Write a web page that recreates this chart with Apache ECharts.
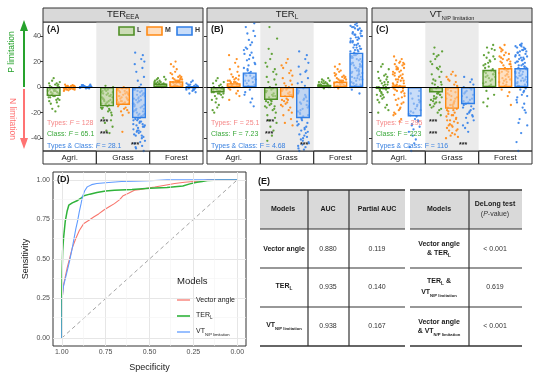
<!DOCTYPE html>
<html><head><meta charset="utf-8">
<script src="https://cdn.jsdelivr.net/npm/echarts@6/dist/echarts.min.js"></script>
<style>html,body{margin:0;padding:0;background:#fff}#c{width:550px;height:381px}</style>
</head><body><div id="c"></div>
<script>
// ---------------- DATA ----------------
const categories = ['Agri.', 'Grass', 'Forest'];
const classes = ['L', 'M', 'H'];
const yTicks = [-40, -20, 0, 20, 40];
// bar means, order: Agri L,M,H | Grass L,M,H | Forest L,M,H
const barsA = [-7, -1, 0.5, -15, -14, -24.3, 2.8, 4.6, 0.5];
const barsB = [-4.2, 3.1, 11.5, -10, -7.8, -24.3, 1.8, 4.4, 27];
const barsC = [-1.5, 1.3, -23, -4.2, -17, -13.3, 13.6, 15, 15];
// site values, same order as bars
const ptsA = [
  [7,5,4,3,3,2,2,1,1,0,0,-1,-1,-2,-2,-3,-3,-3,-4,-4,-5,-5,-6,-6,-7,-7,-8,-8,-9,-10,-10,-11,-12,-13,-15,-17,-19],
  [2,1.5,1,1,0.5,0.5,0,0,0,-0.5,-0.5,-1,-1,-1,-1.5,-1.5,-2,-2,-2.5,-3,1,0,-1,-2,0.5,-0.5],
  [2,1.5,1,1,0.5,0.5,0,0,0,-0.5,-0.5,-1,-1,1.5,0.5,0,-0.5,1],
  [1,0,-1,-2,-3,-4,-5,-6,-7,-8,-9,-10,-11,-12,-13,-14,-15,-16,-17,-18,-19,-20,-2,-4,-6,-8,-10,-12,-14,-16,-3,-7,-11,-22,-24,-26,-28,-31,-34,-36,-5,-9,-13,-17],
  [0,-1,-2,-3,-4,-5,-6,-7,-8,-9,-10,-11,-12,-13,-14,-15,-16,-17,-18,-19,-20,-22,-2,-4,-6,-8,-10,-12,-1,-3,-5,-7,-9,-11,-13,-35],
  [27,25,22,20,18,15,12,8,5,2,0,-1,-2,-3,-4,-5,-6,-7,-8,-9,-10,-11,-12,-13,-14,-15,-16,-17,-18,-19,-20,-21,-22,-23,-24,-25,-26,-27,-28,-29,-30,-31,-32,-33,-34,-35,-36,-37,-38,-39,-40,-42,-44,-46,-48,-50,-3,-7,-11,-15,-19,-23,-27,-31,-35,-5,-9,-13,-17,-21,-25,-29,-2,-6,-10,-14,-18,-22,-26,-30,-34,-38,-43,-47],
  [8,7,6,5,5,4,4,3,3,3,2,2,2,1,1,1,0.5,0.5,0,0,6,4,2,1,3],
  [20,18,16,14,12,11,10,9,8,8,7,7,6,6,5,5,5,4,4,4,3,3,3,2,2,2,1,1,1,0,0,6,4,2],
  [5,4,3,2,2,1,1,1,0,0,0,0,-1,-1,-1,-2,-2,-3,-4,-5,1,0,-1,2,-2]
];
const ptsB = [
  [7,5,4,3,2,1,0,0,-1,-1,-2,-2,-3,-3,-4,-4,-5,-5,-6,-7,-8,-9,-10,-12,-14,-16,-18,-20,-1,-3,-5,-2],
  [25,22,19,16,14,12,10,9,8,7,6,5,5,4,4,3,3,2,2,1,1,0,0,-1,-2,-3,-5,-7,-10,2,4,6],
  [50,47,44,42,40,37,35,33,31,29,27,25,23,21,19,17,15,13,12,11,10,9,8,7,6,5,4,3,2,1,0,-2,-4,-6,-9,-12,-15,14,18,22,26,30,9,5],
  [47,38,30,26,22,19,16,14,12,10,8,6,4,2,0,-1,-2,-3,-4,-5,-6,-7,-8,-9,-10,-11,-12,-13,-14,-15,-16,-17,-18,-20,-22,-24,-26,-28,-31,-34,-38,-42,-3,-7,-11,-15],
  [22,19,17,15,13,11,9,7,5,3,2,1,0,-1,-2,-3,-4,-5,-6,-7,-8,-9,-10,-11,-12,-13,-14,-15,-16,-18,-20,-22,-25,-28,-30,-2,-6,-10],
  [28,25,22,19,16,13,10,7,4,1,-1,-3,-5,-7,-9,-11,-13,-15,-17,-19,-21,-23,-25,-27,-29,-31,-33,-35,-37,-39,-41,-43,-45,-47,-49,-50,-2,-6,-10,-14,-18,-22,-26,-30,-34,-38,-42,-46,-20,-28,-36,-44,-4,-8,-12,-16,-24,-32,-40,-48,3,12],
  [7,6,5,5,4,4,3,3,2,2,2,1,1,1,0,0,0,-1,3,4,2,1],
  [18,16,14,13,12,11,10,9,8,8,7,7,6,6,5,5,4,4,3,3,2,2,1,1,0,0,-1,5,3,9],
  [50,49,48,47,46,45,44,43,42,41,40,39,38,37,36,35,34,33,32,31,30,29,28,27,26,25,24,23,22,21,20,19,18,17,16,15,14,13,12,11,10,9,8,7,6,5,4,3,2,1,0,-2,-5,45,40,35,30,25,20,15,10,48,42,36,28,22,16,47,44,41,38,33,29,26,23,19,17,13,11,8,6,3,1,46,39,31,24,18,12,7,2]
];
const ptsC = [
  [18,16,14,12,10,9,8,7,6,5,4,3,2,1,0,0,-1,-1,-2,-3,-4,-5,-6,-7,-8,-9,-10,-12,-14,-16,-18,-20,0,-2,2,-4,4,-6],
  [24,22,20,19,18,17,16,15,14,13,12,11,10,9,8,7,6,5,4,3,2,1,0,-1,-2,-3,-4,-5,-6,-8,-10,-12,-14,-16,-18,-20,-22,-25,-27,10,14,18,6,2,21,19,15,12,9,7,5,3,1,-1,-3,-7,-9,-13,-17,-21],
  [-3,-5,-7,-9,-11,-13,-15,-17,-19,-21,-23,-25,-27,-29,-31,-33,-35,-38,-41,-44,-47,-50,-10,-14,-18,-22,-26,-30,-12,-20],
  [31,28,26,24,22,20,18,16,14,12,10,8,6,4,2,0,-1,-2,-3,-4,-5,-6,-7,-8,-9,-10,-11,-12,-13,-14,-16,-18,-20,-22,-3,-6,-9,2,5,25,15,3,-1,-5,-8,-12,-15,-17],
  [12,10,8,6,4,2,0,-2,-4,-6,-8,-10,-12,-14,-16,-18,-20,-22,-24,-26,-28,-30,-32,-34,-36,-38,-40,-5,-9,-13,-17,-21,-25,-29,-33,-7,-11,-15,-19,-23,-27,-31,9,5,1,-3,-9,-14,-18,-22,-26,-30,-34,-37,-39],
  [8,6,4,2,0,-2,-4,-6,-8,-10,-12,-14,-16,-18,-20,-22,-24,-26,-28,-30,-32,-35,-3,-7,-11,-15,-19,-23,-5,-9,-13,-17,-21,-1],
  [33,31,29,27,25,23,21,19,17,15,14,13,12,11,10,9,8,7,6,5,4,3,2,1,0,-3,-6,-9,-12,-15,20,16,12,8,24,30,22,18,10],
  [33,31,29,27,25,24,23,22,21,20,19,18,17,16,15,14,13,12,11,10,9,8,7,6,5,4,3,2,1,0,-2,-4,-7,-14,30,26,22,18,14,10,6,28,20,12,4],
  [34,33,32,31,30,29,28,27,26,25,24,23,22,21,20,19,18,17,16,15,14,13,12,11,10,9,8,7,6,5,4,3,2,1,0,-2,-4,-6,-8,-10,-13,-16,-20,-25,-30,-36,-43,-50,32,28,24,20,16,12,8,4,30,22,14,33,31,29,27,25,23,21,19,17,15,13,11,9,7,5,3,1,-1,-3,-7,-12,-18,-28]
];
const statsA = ['128', '65.1', '28.1'];
const statsB = ['25.1', '7.23', '4.68'];
const statsC = ['295', '223', '116'];

// ROC curves
const rocTicks = [0, 0.25, 0.5, 0.75, 1];
const specVA = [1,1,0.995,0.989,0.97,0.94,0.92,0.90,0.874,0.845,0.816,0.79,0.76,0.73,0.70,0.67,0.65,0.62,0.586,0.55,0.50,0.47,0.42,0.356,0.30,0.25,0.20,0.17,0.10,0];
const sensVA = [0,0.22,0.28,0.34,0.44,0.57,0.63,0.68,0.725,0.745,0.767,0.785,0.81,0.83,0.85,0.875,0.90,0.915,0.935,0.94,0.95,0.955,0.965,0.977,0.985,0.99,0.995,1,1,1];
const specTER = [1,1,0.998,0.995,0.99,0.98,0.97,0.96,0.94,0.91,0.89,0.874,0.84,0.80,0.75,0.70,0.60,0.50,0.40,0.31,0.27,0.23,0.20,0.17,0.10,0];
const sensTER = [0,0.25,0.42,0.55,0.63,0.74,0.80,0.84,0.855,0.87,0.885,0.90,0.91,0.92,0.93,0.935,0.94,0.948,0.952,0.962,0.975,0.985,0.99,0.996,1,1];
const specVT = [1,0.998,0.99,0.97,0.955,0.94,0.93,0.92,0.91,0.90,0.89,0.883,0.87,0.855,0.83,0.80,0.75,0.66,0.59,0.50,0.40,0.30,0];
const sensVT = [0,0.25,0.33,0.42,0.49,0.57,0.63,0.69,0.74,0.80,0.85,0.89,0.93,0.956,0.97,0.977,0.982,0.99,0.992,0.995,1,1,1];

// table
const tableModels = ['Vector angle', 'TER_L', 'VT_N/P limitation'];
const tableAUC = ['0.880', '0.935', '0.938'];
const tablePAUC = ['0.119', '0.140', '0.167'];
const delongP = ['< 0.001', '0.619', '< 0.001'];

// ---------------- CHART ----------------
const F = 'Liberation Sans, Arial, Helvetica, sans-serif';
const chart = echarts.init(document.getElementById('c'), null, {renderer: 'canvas'});
const PW = 160, TOP = 22, PH = 129;
const fillC = ['rgba(185,212,150,0.62)', 'rgba(255,204,153,0.62)', 'rgba(168,200,245,0.62)'];
const lineC = ['#4f8f26', '#ff8a14', '#2f7ee6'];
const ptC = ['#5a9e2f', '#ff8c1a', '#3c86ea'];
const statC = ['#f58787', '#3aa83a', '#3b82e0'];

// van der Corput sequence (deterministic, even horizontal spread for jitter)
function vdc(n) { let v = 0, d = 0.5; while (n > 0) { if (n & 1) v += d; n >>= 1; d /= 2; } return v; }

const panels = [
  {left: 43, bars: barsA, pts: ptsA, main: 'TER', sub: 'EEA', subSize: 6.5, label: '(A)', stats: statsA, italicF: true, stars: [100, 100, 131]},
  {left: 207, bars: barsB, pts: ptsB, main: 'TER', sub: 'L', subSize: 6.5, label: '(B)', stats: statsB, italicF: false, stars: [266, 265, 300]},
  {left: 372, bars: barsC, pts: ptsC, main: 'VT', sub: 'N/P limitation', subSize: 5.5, label: '(C)', stats: statsC, italicF: false, stars: [429, 429, 459]}
];

const grids = [], xAxes = [], yAxes = [], series = [], graphic = [];

function subText(x, y, main, sub, size, subSize, opts) {
  opts = opts || {};
  return {
    type: 'text', x: x, y: y, z: 20, rotation: opts.rotation || 0,
    style: {
      text: '{m|' + main + '}{s|' + sub + '}' + (opts.tail ? '{m|' + opts.tail + '}' : ''),
      align: opts.align || 'center', verticalAlign: 'middle',
      rich: {
        m: {fontSize: size, fontFamily: F, fontWeight: opts.bold ? 'bold' : 'normal', fill: opts.color || '#1a1a1a', verticalAlign: 'bottom', padding: [0, 0, Math.round(size * 0.22), 0]},
        s: {fontSize: subSize, fontFamily: F, fontWeight: opts.bold ? 'bold' : 'normal', fill: opts.color || '#1a1a1a', verticalAlign: 'bottom'}
      }
    }
  };
}
function txt(x, y, s, size, opts) {
  opts = opts || {};
  return {type: 'text', x: x, y: y, z: 20, rotation: opts.rotation || 0,
    style: {text: s, fontSize: size, fontFamily: F, fontWeight: opts.bold ? 'bold' : 'normal', fontStyle: opts.italic ? 'italic' : 'normal',
      fill: opts.color || '#1a1a1a', align: opts.align || 'left', verticalAlign: 'middle', rich: opts.rich}};
}
function ln(x1, y1, x2, y2, color, w, dash) {
  return {type: 'line', z: 15, shape: {x1: x1, y1: y1, x2: x2, y2: y2}, style: {stroke: color, lineWidth: w, lineDash: dash || null}};
}

panels.forEach((p, i) => {
  grids.push({left: p.left, top: TOP, width: PW, height: PH, show: true, borderColor: '#333', borderWidth: 1, backgroundColor: '#fff'});
  xAxes.push({gridIndex: i, type: 'value', min: 0, max: 3, axisLine: {show: false}, axisTick: {show: false}, splitLine: {show: false},
    axisLabel: {customValues: [0.5, 1.5, 2.5], formatter: v => categories[Math.floor(v)], fontSize: 8, color: '#1a1a1a', margin: 3, fontFamily: F}});
  yAxes.push({gridIndex: i, type: 'value', min: -50, max: 51, axisLine: {show: false}, splitLine: {show: false},
    axisTick: {show: true, customValues: yTicks, length: 3, lineStyle: {color: '#333'}},
    axisLabel: {show: i === 0, customValues: yTicks, fontSize: 7, color: '#4d4d4d', margin: 2, fontFamily: F}});
  // grassland shading
  series.push({type: 'line', xAxisIndex: i, yAxisIndex: i, data: [[0, 0]], symbol: 'none', lineStyle: {opacity: 0}, z: 1, silent: true,
    markArea: {silent: true, itemStyle: {color: '#ebebeb'}, data: [[{xAxis: 1}, {xAxis: 2}]]}});
  // jittered site points
  for (let k = 0; k < 3; k++) {
    const data = [];
    for (let g = 0; g < 3; g++) {
      const vals = p.pts[g * 3 + k];
      const cx = g + 0.5 + (k - 1) * 0.3;
      vals.forEach((v, j) => {
        const off = ((vdc(j + 1 + g * 5 + k * 3) + 0.37 * ((j * 7) % 3) / 3) % 1 - 0.5) * 0.23;
        data.push([cx + off, v]);
      });
    }
    series.push({type: 'scatter', name: classes[k], xAxisIndex: i, yAxisIndex: i, data: data, symbol: 'circle', symbolSize: 2.3,
      itemStyle: {color: ptC[k], opacity: 0.95}, z: 2, silent: true});
  }
  // bars
  const bdata = [];
  for (let g = 0; g < 3; g++) for (let k = 0; k < 3; k++) {
    bdata.push({value: [g + 0.5 + (k - 1) * 0.3, p.bars[g * 3 + k]], itemStyle: {color: fillC[k], borderColor: lineC[k], borderWidth: 1.4}});
  }
  series.push({type: 'bar', xAxisIndex: i, yAxisIndex: i, data: bdata, barWidth: 14, z: 3, silent: true});
  // zero line
  series.push({type: 'line', xAxisIndex: i, yAxisIndex: i, data: [[0, 0]], symbol: 'none', lineStyle: {opacity: 0}, z: 4, silent: true,
    markLine: {silent: true, symbol: ['none', 'none'], label: {show: false}, lineStyle: {color: '#000', width: 1, type: 'solid'}, data: [{yAxis: 0}]}});

  // header strip
  graphic.push({type: 'rect', z: 10, shape: {x: p.left, y: 8, width: PW, height: 14}, style: {fill: '#d9d9d9', stroke: '#333', lineWidth: 1}});
  graphic.push(subText(p.left + PW / 2, 15, p.main, p.sub, 9.5, p.subSize));
  // category strip
  for (let g = 0; g < 3; g++) {
    graphic.push({type: 'rect', z: 10, shape: {x: p.left + g * PW / 3, y: 151, width: PW / 3, height: 13}, style: {fill: 'none', stroke: '#333', lineWidth: 1}});
  }
  graphic.push(txt(p.left + 4, 30, p.label, 9, {bold: true}));
  // stats
  const labs = ['Types: ', 'Class: ', 'Types & Class: '];
  const ys = [123, 134.5, 146];
  for (let r = 0; r < 3; r++) {
    graphic.push({type: 'text', x: p.left + 4, y: ys[r], z: 20, style: {
      text: labs[r] + '{f|F}' + ' = ' + p.stats[r], fontSize: 7, fontFamily: F, fill: statC[r], verticalAlign: 'middle', align: 'left',
      rich: {f: {fontSize: 7, fontFamily: F, fill: statC[r], fontStyle: p.italicF ? 'italic' : 'normal'}}}});
    graphic.push(txt(p.stars[r], ys[r] - 0.5, '***', 7, {color: '#1a1a1a', bold: true}));
  }
});

// legend in panel A
['L', 'M', 'H'].forEach((c, k) => {
  const xs = [119, 147, 177][k];
  graphic.push({type: 'rect', z: 20, shape: {x: xs, y: 27, width: 15, height: 8}, style: {fill: fillC[k], stroke: lineC[k], lineWidth: 1.6}});
  graphic.push(txt(xs + 18, 30.5, c, 7, {bold: true, color: '#333'}));
});

// left arrows
graphic.push(ln(24, 87, 24, 30, '#26a22c', 2));
graphic.push({type: 'polygon', z: 15, shape: {points: [[24, 20], [20, 31], [28, 31]]}, style: {fill: '#26a22c'}});
graphic.push(ln(24, 89, 24, 139, '#ff7373', 2));
graphic.push({type: 'polygon', z: 15, shape: {points: [[24, 149], [20, 138], [28, 138]]}, style: {fill: '#ff7373'}});
graphic.push(txt(12, 52, 'P limitation', 8.5, {color: '#26a22c', rotation: Math.PI / 2, align: 'center'}));
graphic.push(txt(12, 119, 'N limitation', 8.5, {color: '#ff7373', rotation: -Math.PI / 2, align: 'center'}));

// ---------- ROC panel ----------
const gi = 3;
grids.push({left: 53, top: 172, width: 193, height: 174, show: true, borderColor: '#333', borderWidth: 1, backgroundColor: '#fff'});
xAxes.push({gridIndex: gi, type: 'value', min: -0.05, max: 1.05, inverse: true, axisLine: {show: false}, splitLine: {show: false},
  axisTick: {show: true, customValues: rocTicks, length: 3, lineStyle: {color: '#333'}},
  axisLabel: {customValues: rocTicks, formatter: v => v.toFixed(2), fontSize: 7, color: '#4d4d4d', margin: 3, fontFamily: F},
  name: 'Specificity', nameLocation: 'middle', nameGap: 17, nameTextStyle: {fontSize: 9, color: '#1a1a1a', fontFamily: F}});
yAxes.push({gridIndex: gi, type: 'value', min: -0.05, max: 1.05, axisLine: {show: false}, splitLine: {show: false},
  axisTick: {show: true, customValues: rocTicks, length: 3, lineStyle: {color: '#333'}},
  axisLabel: {customValues: rocTicks, formatter: v => v.toFixed(2), fontSize: 7, color: '#4d4d4d', margin: 3, fontFamily: F},
  name: 'Sensitivity', nameLocation: 'middle', nameGap: 23, nameRotate: 90, nameTextStyle: {fontSize: 9, color: '#1a1a1a', fontFamily: F}});
const minor = [0.125, 0.375, 0.625, 0.875];
series.push({type: 'line', xAxisIndex: gi, yAxisIndex: gi, data: [[0, 0]], symbol: 'none', lineStyle: {opacity: 0}, z: 1, silent: true,
  markLine: {silent: true, symbol: ['none', 'none'], label: {show: false}, animation: false,
    data: rocTicks.map(v => ({xAxis: v, lineStyle: {color: '#e6e6e6', width: 1, type: 'solid'}}))
      .concat(rocTicks.map(v => ({yAxis: v, lineStyle: {color: '#e6e6e6', width: 1, type: 'solid'}})))
      .concat(minor.map(v => ({xAxis: v, lineStyle: {color: '#f3f3f3', width: 0.6, type: 'solid'}})))
      .concat(minor.map(v => ({yAxis: v, lineStyle: {color: '#f3f3f3', width: 0.6, type: 'solid'}})))}});
series.push({type: 'line', xAxisIndex: gi, yAxisIndex: gi, data: [[1, 0], [0, 1]], symbol: 'none', z: 2, silent: true,
  lineStyle: {color: '#8c8c8c', width: 0.8, type: [4, 3]}});
const rocSets = [[specVA, sensVA, '#F8766D', 1.1], [specTER, sensTER, '#2fb33a', 1.5], [specVT, sensVT, '#619CFF', 1.1]];
rocSets.forEach(r => {
  series.push({type: 'line', xAxisIndex: gi, yAxisIndex: gi, data: r[0].map((s, j) => [s, r[1][j]]), symbol: 'none', z: 3, silent: true,
    lineStyle: {color: r[2], width: r[3]}});
});
graphic.push(txt(57, 180, '(D)', 9, {bold: true}));
graphic.push(txt(177, 281, 'Models', 9.5, {color: '#1a1a1a'}));
graphic.push(ln(177, 300, 190, 300, '#F8766D', 1.3));
graphic.push(ln(177, 316, 190, 316, '#2fb33a', 1.6));
graphic.push(ln(177, 332, 190, 332, '#619CFF', 1.3));
graphic.push(txt(196, 300, 'Vector angle', 7));
graphic.push(subText(196, 316, 'TER', 'L', 7, 4.5, {align: 'left'}));
graphic.push(subText(196, 332, 'VT', 'N/P limitation', 7, 4.2, {align: 'left'}));

// ---------- Table (E) ----------
graphic.push(txt(258, 182, '(E)', 9, {bold: true}));
const hy = [190, 229, 268, 307, 346];
[[260, 405, [308, 349]], [410, 522, [469]]].forEach(t => {
  graphic.push({type: 'rect', z: 12, shape: {x: t[0], y: 190, width: t[1] - t[0], height: 39}, style: {fill: '#d9d9d9'}});
  hy.forEach((y, j) => graphic.push(ln(t[0], y, t[1], y, '#333', (j === 0 || j === 4) ? 1.6 : 1.2)));
  t[2].forEach(x => graphic.push(ln(x, 190, x, 346, '#333', 1.2)));
});
const rowY = [249, 287, 326];
graphic.push(txt(283, 209, 'Models', 7, {bold: true, align: 'center'}));
graphic.push(txt(328, 209, 'AUC', 7, {bold: true, align: 'center'}));
graphic.push(txt(377, 209, 'Partial AUC', 7, {bold: true, align: 'center'}));
graphic.push(txt(439, 209, 'Models', 7, {bold: true, align: 'center'}));
graphic.push(txt(495, 204, 'DeLong test', 7, {bold: true, align: 'center'}));
graphic.push({type: 'text', x: 495, y: 214, z: 20, style: {text: '({i|P}-value)', fontSize: 7, fontFamily: F, fill: '#333', align: 'center', verticalAlign: 'middle',
  rich: {i: {fontSize: 7, fontFamily: F, fill: '#333', fontStyle: 'italic'}}}});
function modelLabel(x, y, m, align, tail) {
  const parts = m.split('_');
  if (parts.length === 1) return txt(x, y, m + (tail || ''), 7, {bold: true, align: align || 'center'});
  return subText(x, y, parts[0], parts[1], 7, parts[1].length > 2 ? 4.2 : 4.8, {bold: true, align: align || 'center', tail: tail});
}
tableModels.forEach((m, r) => {
  graphic.push(modelLabel(284, rowY[r], m));
  graphic.push(txt(328, rowY[r], tableAUC[r], 7, {align: 'center', color: '#333'}));
  graphic.push(txt(377, rowY[r], tablePAUC[r], 7, {align: 'center', color: '#333'}));
  graphic.push(txt(495, rowY[r], delongP[r], 7, {align: 'center', color: '#333'}));
});
// pairwise comparison labels
graphic.push(txt(439, 244, 'Vector angle', 7, {bold: true, align: 'center'}));
graphic.push(subText(439, 254, '& TER', 'L', 7, 4.8, {bold: true}));
graphic.push(subText(439, 282, 'TER', 'L', 7, 4.8, {bold: true, tail: ' &'}));
graphic.push(subText(439, 293, 'VT', 'N/P limitation', 7, 4.2, {bold: true}));
graphic.push(txt(439, 322, 'Vector angle', 7, {bold: true, align: 'center'}));
graphic.push(subText(439, 332, '& VT', 'N/P limitation', 7, 4.2, {bold: true}));

chart.setOption({
  animation: false,
  backgroundColor: '#fff',
  textStyle: {fontFamily: F},
  grid: grids, xAxis: xAxes, yAxis: yAxes, series: series, graphic: graphic
});
</script></body></html>
